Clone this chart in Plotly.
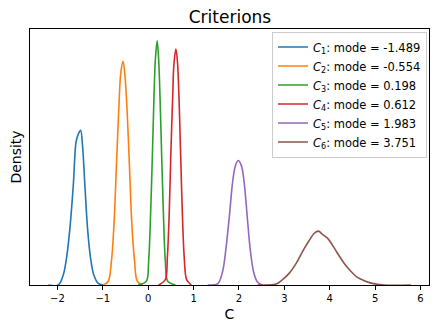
import plotly.graph_objects as go

# Kernel density curves for each criterion (x = criterion value, y = density)
c1_x = [-2.20, -1.98, -1.87, -1.80, -1.725, -1.65, -1.59, -1.54, -1.489, -1.446, -1.395, -1.336, -1.27, -1.20, -1.10, -0.99]
c1_y = [0.0, 0.0, 0.19, 0.50, 1.05, 1.85, 2.65, 2.80, 2.87, 2.58, 1.85, 1.05, 0.50, 0.19, 0.03, 0.0]

c2_x = [-0.99, -0.88, -0.81, -0.75, -0.70, -0.648, -0.604, -0.554, -0.516, -0.466, -0.413, -0.363, -0.30, -0.24, -0.12]
c2_y = [0.0, 0.07, 0.44, 1.18, 2.21, 3.26, 3.93, 4.15, 3.93, 3.26, 2.21, 1.18, 0.44, 0.07, 0.0]

c3_x = [-0.22, -0.04, 0.01, 0.055, 0.092, 0.128, 0.158, 0.198, 0.231, 0.26, 0.297, 0.334, 0.378, 0.43, 0.60]
c3_y = [0.0, 0.07, 0.44, 1.36, 2.40, 3.50, 4.18, 4.53, 4.18, 3.50, 2.40, 1.36, 0.44, 0.07, 0.0]

c4_x = [0.23, 0.378, 0.422, 0.466, 0.50, 0.54, 0.567, 0.612, 0.648, 0.678, 0.714, 0.75, 0.795, 0.846, 0.95]
c4_y = [0.0, 0.10, 0.50, 1.40, 2.45, 3.50, 4.10, 4.38, 4.10, 3.50, 2.45, 1.40, 0.50, 0.10, 0.0]

c5_x = [1.31, 1.53, 1.64, 1.714, 1.79, 1.86, 1.92, 1.983, 2.055, 2.114, 2.18, 2.246, 2.32, 2.41, 2.52]
c5_y = [0.0, 0.02, 0.25, 0.68, 1.29, 1.91, 2.21, 2.31, 2.21, 1.91, 1.29, 0.68, 0.25, 0.05, 0.0]

c6_x = [2.41, 2.82, 2.96, 3.11, 3.26, 3.40, 3.55, 3.66, 3.751, 3.84, 3.95, 4.06, 4.17, 4.32, 4.47, 4.61, 4.76, 4.94, 5.20, 5.79]
c6_y = [0.0, 0.02, 0.10, 0.22, 0.40, 0.62, 0.83, 0.96, 1.00, 0.94, 0.87, 0.74, 0.59, 0.40, 0.25, 0.14, 0.08, 0.03, 0.0, 0.0]

names = ["<i>C</i><sub>1</sub>: mode = -1.489",
         "<i>C</i><sub>2</sub>: mode = -0.554",
         "<i>C</i><sub>3</sub>: mode = 0.198",
         "<i>C</i><sub>4</sub>: mode = 0.612",
         "<i>C</i><sub>5</sub>: mode = 1.983",
         "<i>C</i><sub>6</sub>: mode = 3.751"]
colors = ["#1f77b4", "#ff7f0e", "#2ca02c", "#d62728", "#9467bd", "#8c564b"]

series = [(c1_x, c1_y), (c2_x, c2_y), (c3_x, c3_y),
          (c4_x, c4_y), (c5_x, c5_y), (c6_x, c6_y)]

FONT = "DejaVu Sans, Liberation Sans, sans-serif"

fig = go.Figure()
for (xs, ys), name, col in zip(series, names, colors):
    fig.add_trace(go.Scatter(
        x=xs, y=ys, mode="lines", name=name,
        line=dict(color=col, width=1.6, shape="spline", smoothing=0.9),
    ))

fig.update_layout(
    width=440, height=330,
    margin=dict(l=30, r=10, t=29, b=43),
    paper_bgcolor="white", plot_bgcolor="white",
    font=dict(family=FONT, color="black", size=10),
    title=dict(text="Criterions", x=0.5227, xanchor="center",
               y=1 - 17.5 / 330, yanchor="middle",
               font=dict(size=17, family=FONT, color="black")),
    legend=dict(x=0.995, xanchor="right", y=0.99, yanchor="top",
                bgcolor="rgba(255,255,255,0.85)", bordercolor="#cccccc",
                borderwidth=1, font=dict(size=11.5, family=FONT),
                tracegroupgap=0, itemwidth=30),
    showlegend=True,
)

fig.update_xaxes(
    range=[-2.604, 6.187], tickmode="array",
    tickvals=[-2, -1, 0, 1, 2, 3, 4, 5, 6],
    ticktext=["\u22122", "\u22121", "0", "1", "2", "3", "4", "5", "6"],
    ticks="outside", ticklen=4, tickwidth=1, tickcolor="black",
    showline=True, linecolor="black", linewidth=1, mirror=True,
    showgrid=False, zeroline=False,
    tickfont=dict(size=10),
    title=dict(text="C", font=dict(size=14), standoff=6),
)
fig.update_yaxes(
    range=[0, 4.75], showticklabels=False, ticks="",
    showline=True, linecolor="black", linewidth=1, mirror=True,
    showgrid=False, zeroline=False,
    title=dict(text="Density", font=dict(size=14), standoff=4),
)

fig.write_html("out.html")
